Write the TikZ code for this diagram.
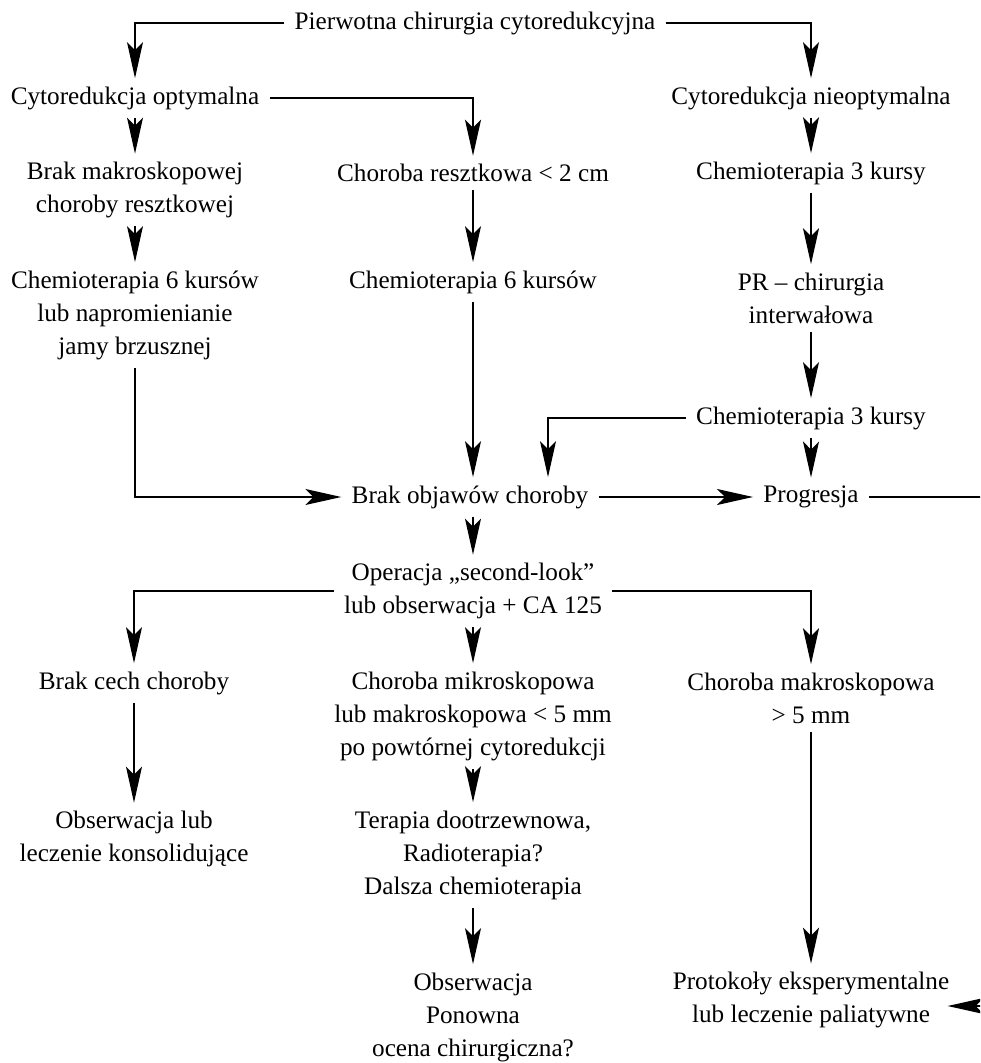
\documentclass[tikz,border=0pt]{standalone}
\usepackage{fontspec}
\setmainfont{Liberation Serif}
\usepackage{tikz}
\usetikzlibrary{arrows.meta,calc}

\begin{document}
\begin{tikzpicture}[x=0.5pt,y=-0.5pt,
  font=\fontsize{12.6}{16.5}\selectfont,
  box/.style={align=center,inner xsep=5pt,inner ysep=4pt},
  flow/.style={-{Stealth[length=18pt,width=8pt,inset=4pt]},line width=0.7pt}]

\useasboundingbox (0,0) rectangle (980,1063);
\clip (0,0) rectangle (980,1063);

% first level
\node[box] (prim) at (475,23) {Pierwotna chirurgia cytoredukcyjna};
\node[box] (opt) at (135,98) {Cytoredukcja optymalna};
\node[box] (nonopt) at (811,98) {Cytoredukcja nieoptymalna};

% after surgery
\node[box] (nomacro) at (135,190) {Brak makroskopowej\\choroby resztkowej};
\node[box] (resid) at (473,173) {Choroba resztkowa < 2 cm};
\node[box] (chemoA) at (811,173) {Chemioterapia 3 kursy};
\node[box] (chemoL) at (135,315) {Chemioterapia 6 kursów\\lub napromienianie\\jamy brzusznej};
\node[box] (chemoM) at (473,282) {Chemioterapia 6 kursów};
\node[box] (interval) at (811,298) {PR – chirurgia\\interwałowa};
\node[box] (chemoB) at (811,418) {Chemioterapia 3 kursy};
\node[box] (noevid) at (470,497) {Brak objawów choroby};
\node[box] (prog) at (811,497) {Progresja};

% second look
\node[box] (oper) at (473,591) {Operacja „second-look”\\lub obserwacja + CA 125};
\node[box] (nofeat) at (134,683) {Brak cech choroby};
\node[box] (micro) at (473,716) {Choroba mikroskopowa\\lub makroskopowa < 5 mm\\po powtórnej cytoredukcji};
\node[box] (macro) at (811,698) {Choroba makroskopowa\\> 5 mm};
\node[box] (obs) at (134,839) {Obserwacja lub\\leczenie konsolidujące};
\node[box] (ther) at (473,855) {Terapia dootrzewnowa,\\Radioterapia?\\Dalsza chemioterapia};
\node[box] (reval) at (473,1017) {Obserwacja\\Ponowna\\ocena chirurgiczna?};
\node[box] (prot) at (811,1000) {Protokoły eksperymentalne\\lub leczenie paliatywne};

\coordinate (join) at (548,0);
\coordinate (rim) at (1000,0);

\draw[flow] (prim.west) -| (opt.north);
\draw[flow] (prim.east) -| (nonopt.north);
\draw[flow] (opt.east) -| (resid.north);
\draw[flow] (opt.south) -- (nomacro.north);
\draw[flow] (nomacro.south) -- (chemoL.north);
\draw[flow] (chemoL.south) |- (noevid.west);
\draw[flow] (resid.south) -- (chemoM.north);
\draw[flow] (chemoM.south) -- (chemoM.south |- noevid.north);
\draw[flow] (nonopt.south) -- (chemoA.north);
\draw[flow] (chemoA.south) -- (interval.north);
\draw[flow] (interval.south) -- (chemoB.north);
\draw[flow] (chemoB.south) -- (prog.north);
\draw[flow] (chemoB.west) -| (join |- noevid.north);
\draw[flow] (noevid.east) -- (prog.west);
\draw[flow] (noevid.south -| oper.north) -- (oper.north);
\draw[flow] (oper.west) -| (nofeat.north);
\draw[flow] (oper.east) -| (macro.north);
\draw[flow] (oper.south) -- (micro.north);
\draw[flow] (nofeat.south) -- (obs.north);
\draw[flow] (micro.south) -- (ther.north);
\draw[flow] (ther.south) -- (reval.north);
\draw[flow] (macro.south) -- (prot.north);
\draw[flow] (prog.east) -- (prog.east -| rim) |- ([xshift=-6pt,yshift=-3pt]prot.east);

\end{tikzpicture}
\end{document}
